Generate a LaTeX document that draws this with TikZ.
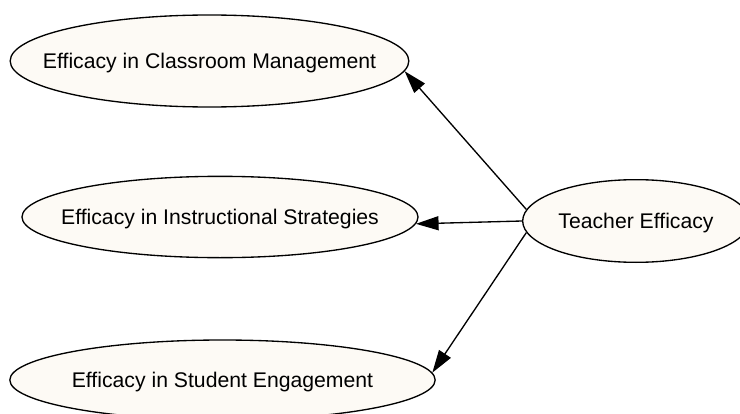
\documentclass[tikz,border=0pt]{standalone}
\usepackage{fontspec}
\setmainfont{Liberation Sans}[Ligatures=NoCommon]
\usepackage{tikz}
\usetikzlibrary{arrows.meta, shapes.geometric}
\definecolor{nodeFill}{RGB}{253,250,245}
\definecolor{mainBlack}{gray}{0.0}

\begin{document}
\begin{tikzpicture}[x=0.75pt, y=-0.75pt,
    factor/.style={ellipse, draw=mainBlack, line width=1pt, fill=nodeFill, inner sep=0pt,
        text height=11.4pt, text depth=0pt, font=\fontsize{15.9}{18}\selectfont},
    link/.style={line width=1pt, draw=mainBlack, -{Triangle[length=17pt, width=10.5pt]}}]
    \useasboundingbox (0,0) rectangle (740,414);

    % Factors
    \node[factor, minimum width=299pt, minimum height=69pt] (classroom) at (209.5,61) {\makebox[0pt]{Efficacy in Classroom Management}};
    \node[factor, minimum width=297pt, minimum height=61pt] (instruct) at (220,217) {\makebox[0pt]{Efficacy in Instructional Strategies}};
    \node[factor, minimum width=319pt, minimum height=60pt] (student) at (222.5,380) {\makebox[0pt]{Efficacy in Student Engagement}};
    \node[factor, minimum width=170pt, minimum height=62pt] (teacher) at (636,221) {\makebox[0pt]{Teacher Efficacy}};

    % Loadings
    \draw[link] (teacher.174) -- (classroom.-3);
    \draw[link] (teacher.west) -- (instruct.-2);
    \draw[link] (teacher.186) -- (student.2);
\end{tikzpicture}
\end{document}
